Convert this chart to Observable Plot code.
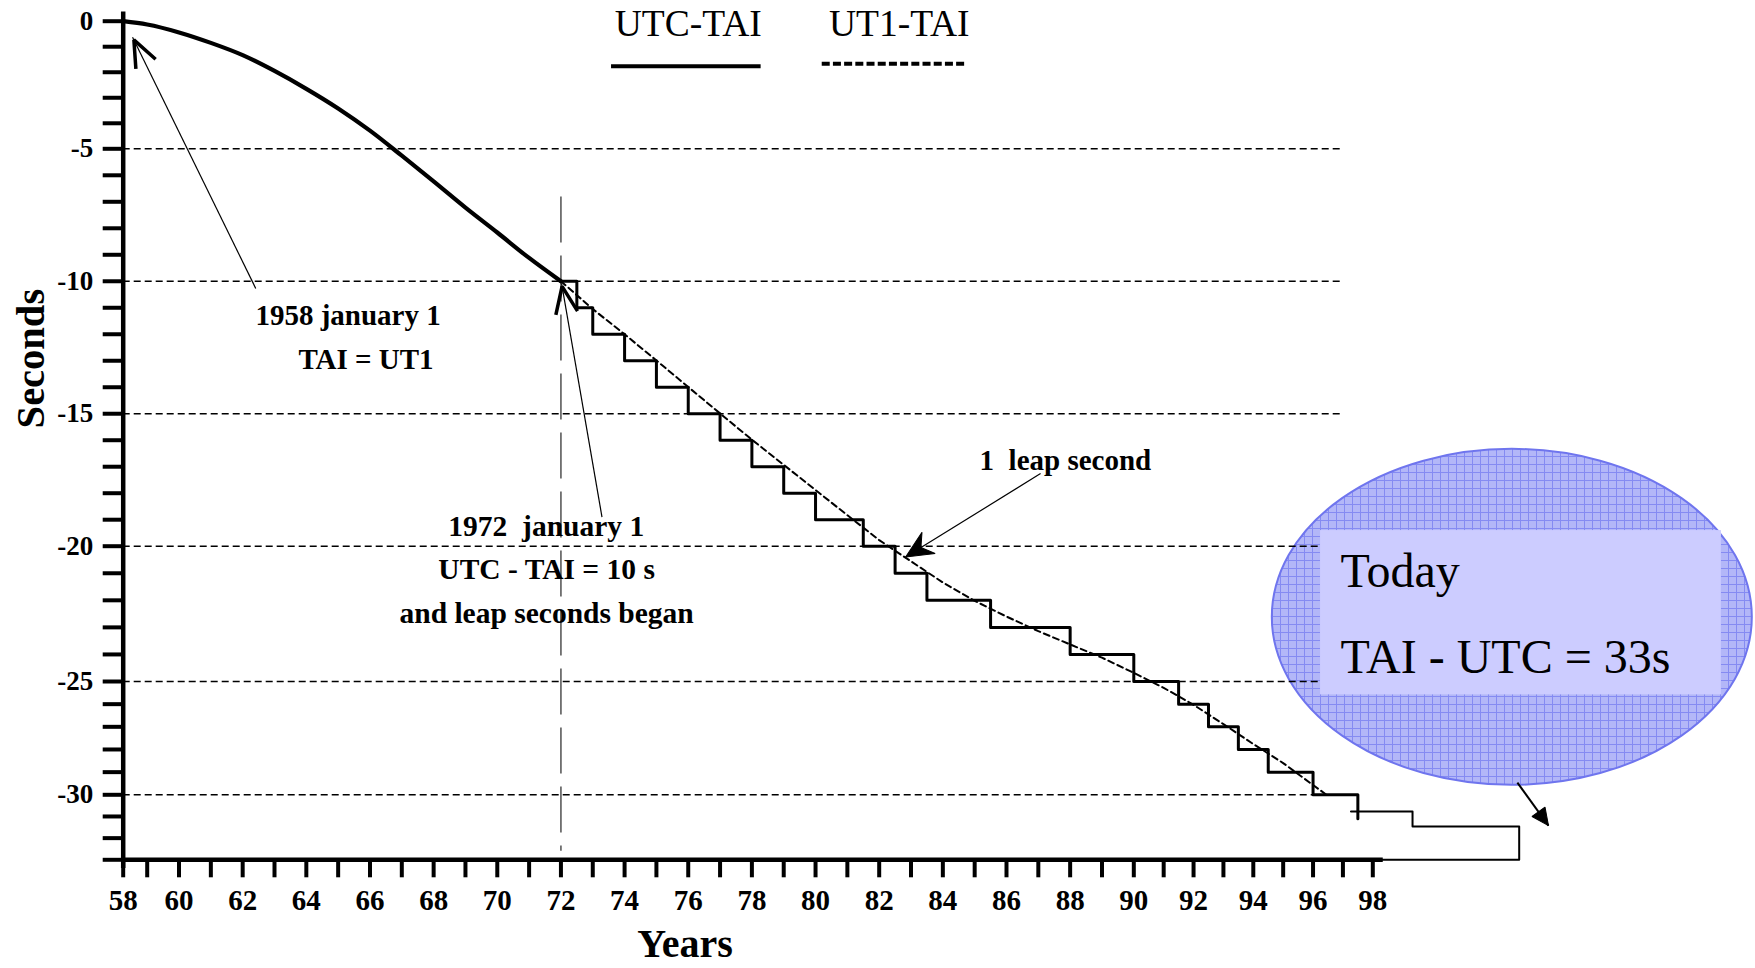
<!DOCTYPE html>
<html>
<head>
<meta charset="utf-8">
<script src="https://cdn.jsdelivr.net/npm/d3@7"></script>
<script src="https://cdn.jsdelivr.net/npm/@observablehq/plot@0.6"></script>
<style>
  html, body { margin: 0; padding: 0; background: #fff; }
  #chart svg { display: block; }
</style>
</head>
<body>
<div id="chart"></div>
<script>
// ---------------- data ----------------
// UTC-TAI before 1972 (follows UT1), years as two-digit 19xx
const earlyYears   = [58, 59, 60, 61, 62, 63, 64, 65, 66, 67, 68, 69, 70, 71, 72];
const earlyUtcTai  = [0, -0.13, -0.44, -0.85, -1.33, -1.95, -2.65, -3.42, -4.29, -5.26, -6.23, -7.22, -8.16, -9.12, -10];

// UTC-TAI leap-second staircase from 1972
const stepYears    = [72, 72.5, 73, 74, 75, 76, 77, 78, 79, 80, 81.5, 82.5, 83.5, 85.5, 88, 90, 91.5, 92.5, 93.5, 94.5, 96, 97.5];
const stepUtcTai   = [-10, -11, -12, -13, -14, -15, -16, -17, -18, -19, -20, -21, -22, -23, -24, -25, -26, -27, -28, -29, -30, -31.1];

// hand-drawn continuation toward "today"
const tailYears    = [97.27, 99.33, 102.9, 97.85];
const tailUtcTai   = [-30.77, -31.46, -33, -33];

// UT1-TAI (dashed) from 1972
const ut1Years     = [72, 73, 74, 75, 76, 77, 78, 79, 80, 81, 82, 83, 84, 85, 86, 87, 88, 89, 90, 91, 92, 93, 94, 95, 96, 96.5];
const ut1Tai       = [-10, -11.05, -12.0, -12.99, -13.99, -14.99, -15.98, -16.93, -17.88, -18.83, -19.77, -20.56, -21.34, -22.02, -22.6, -23.14, -23.63, -24.12, -24.68, -25.28, -26.03, -26.88, -27.76, -28.6, -29.57, -30.05];

// axes
const xTicks       = d3.range(58, 99);          // one tick per year
const yTicks       = d3.range(0, -34, -1);      // one tick per second
const gridLevels   = [-5, -10, -15, -20, -25, -30];
const leapStartYear = [72];

// texts
const legendLabels = ["UTC-TAI", "UT1-TAI"];
const note1958     = ["1958 january 1", "TAI = UT1"];
const note1972     = ["1972  january 1", "UTC - TAI = 10 s", "and leap seconds began"];
const noteLeap     = ["1  leap second"];
const todayLines   = ["Today", "TAI - UTC = 33s"];

// ---------------- helpers ----------------
const table = (xs, ys) => xs.map((x, i) => ({x, y: ys[i]}));
const NS = "http://www.w3.org/2000/svg";
const SERIF = '"Liberation Serif", "Times New Roman", Times, serif';

function headMarker(d, filled, sw) {
  return () => {
    const m = document.createElementNS(NS, "marker");
    m.setAttribute("viewBox", "-45 -25 55 50");
    m.setAttribute("markerWidth", 55);
    m.setAttribute("markerHeight", 50);
    m.setAttribute("refX", 0);
    m.setAttribute("refY", 0);
    m.setAttribute("markerUnits", "userSpaceOnUse");
    m.setAttribute("orient", "auto");
    m.setAttribute("overflow", "visible");
    const p = document.createElementNS(NS, "path");
    p.setAttribute("d", d);
    p.setAttribute("fill", filled ? "black" : "none");
    p.setAttribute("stroke", "black");
    p.setAttribute("stroke-width", sw);
    p.setAttribute("stroke-linejoin", "miter");
    m.appendChild(p);
    return m;
  };
}
const chevron = headMarker("M-30,-11L-3,0L-30,11", false, 3.5);
const barb    = headMarker("M0,0L-27,-12.5L-18,0L-27,12.5Z", true, 1);
const tri     = headMarker("M0,0L-17,-8L-17,8Z", true, 1);

// callout ellipse drawn with the plot's own scales
function calloutEllipse(index, scales) {
  const g = document.createElementNS(NS, "g");
  const defs = document.createElementNS(NS, "defs");
  const pat = document.createElementNS(NS, "pattern");
  pat.setAttribute("id", "hatch");
  pat.setAttribute("width", 8);
  pat.setAttribute("height", 8);
  pat.setAttribute("patternUnits", "userSpaceOnUse");
  const bg = document.createElementNS(NS, "rect");
  bg.setAttribute("width", 8); bg.setAttribute("height", 8); bg.setAttribute("fill", "#b3b7f8");
  const ln = document.createElementNS(NS, "path");
  ln.setAttribute("d", "M0,0.5H8M0.5,0V8");
  ln.setAttribute("stroke", "#858bf2"); ln.setAttribute("stroke-width", 1);
  pat.appendChild(bg); pat.appendChild(ln); defs.appendChild(pat); g.appendChild(defs);
  const e = document.createElementNS(NS, "ellipse");
  e.setAttribute("cx", scales.x(102.67));
  e.setAttribute("cy", scales.y(-22.63));
  e.setAttribute("rx", 240);
  e.setAttribute("ry", 168);
  e.setAttribute("fill", "url(#hatch)");
  e.setAttribute("stroke", "#6f75ee");
  e.setAttribute("stroke-width", 2);
  g.appendChild(e);
  return g;
}

// ---------------- chart ----------------
const W = 1755, H = 968;
const chart = Plot.plot({
  width: W,
  height: H,
  marginLeft: 122.7,
  marginRight: W - 1372.3,
  marginTop: 20.7,
  marginBottom: H - 859.3,
  x: {type: "linear", domain: [58, 59, 90, 98], range: [122.7, 146.7, 1133.3, 1372.3], label: null},
  y: {type: "linear", domain: [0, -5, -20, -25, -30, -33], range: [20.7, 148.3, 545.7, 681, 794.3, 859.3], label: null},
  style: {fontFamily: SERIF, fontSize: "28px", fontWeight: "bold", background: "#fff", color: "#000"},
  marks: [
    calloutEllipse,

    // dashed horizontal grid
    Plot.ruleY(gridLevels, {x1: 58, x2: 97, stroke: "#000", strokeWidth: 1.6, strokeDasharray: "7,4"}),
    // 1972 vertical long-dash line
    Plot.ruleX(leapStartYear, {y1: -6.82, y2: -32.6, stroke: "#444", strokeWidth: 1.4, strokeDasharray: "46,13"}),

    // UT1-TAI dashed
    Plot.line(table(ut1Years, ut1Tai), {x: "x", y: "y", stroke: "#000", strokeWidth: 2, strokeDasharray: "6,4"}),
    // UTC-TAI before 1972
    Plot.line(table(earlyYears, earlyUtcTai), {x: "x", y: "y", stroke: "#000", strokeWidth: 4.2, curve: "monotone-x"}),
    // UTC-TAI staircase
    Plot.line(table(stepYears, stepUtcTai), {x: "x", y: "y", stroke: "#000", strokeWidth: 3, curve: "step-after"}),
    Plot.line(table(tailYears, tailUtcTai), {x: "x", y: "y", stroke: "#000", strokeWidth: 2, curve: "step-after"}),

    // axes
    Plot.ruleX([58], {y1: 0.36, y2: -33.4, stroke: "#000", strokeWidth: 4.5}),
    Plot.ruleY([-33], {x1: 58, x2: 98.35, stroke: "#000", strokeWidth: 4.5}),
    Plot.axisX(xTicks, {anchor: "bottom", tickSize: 18, tickPadding: 12, strokeWidth: 4, fontSize: 29, fontWeight: "bold", tickFormat: d => d % 2 === 0 ? String(d) : "", label: null}),
    Plot.axisY(yTicks, {anchor: "left", tickSize: 20, tickPadding: 10, strokeWidth: 4, fontSize: 27, fontWeight: "bold", tickFormat: d => d % 5 === 0 ? String(d) : "", label: null}),
    Plot.text(["Seconds"], {x: 54.18, y: -12.92, rotate: -90, fontSize: 40.5, fontWeight: "bold", textAnchor: "middle", lineAnchor: "middle"}),
    Plot.text(["Years"], {x: 75.9, y: -37.5, fontSize: 40, fontWeight: "bold", textAnchor: "middle", lineAnchor: "bottom"}),

    // legend
    Plot.ruleY([-1.763], {x1: 73.59, x2: 78.29, stroke: "#000", strokeWidth: 4}),
    Plot.ruleY([-1.67], {x1: 80.21, x2: 84.77, stroke: "#000", strokeWidth: 4, strokeDasharray: "8,3.2"}),
    Plot.text(legendLabels, {x: [76.0, 82.63], y: [-0.59, -0.59], fontSize: 37.5, fontWeight: "normal", textAnchor: "middle", lineAnchor: "bottom"}),

    // annotations
    Plot.link([0], {x1: 62.41, y1: -10.27, x2: 58.39, y2: -0.627, stroke: "#000", strokeWidth: 1.2, markerEnd: chevron}),
    Plot.text(note1958, {x: [65.31, 65.875], y: [-11.655, -13.30], fontSize: 29, textAnchor: "middle", lineAnchor: "bottom"}),
    Plot.link([0], {x1: 73.29, y1: -18.9, x2: 72.02, y2: -10.08, stroke: "#000", strokeWidth: 1.2, markerEnd: chevron}),
    Plot.text(note1972, {x: [71.54, 71.55, 71.55], y: [-19.60, -21.22, -22.82], fontSize: 29.5, textAnchor: "middle", lineAnchor: "bottom"}),
    Plot.link([0], {x1: 87.07, y1: -17.26, x2: 82.83, y2: -20.4, stroke: "#000", strokeWidth: 1.2, markerEnd: barb}),
    Plot.text(noteLeap, {x: 87.85, y: -17.14, fontSize: 29, textAnchor: "middle", lineAnchor: "bottom"}),

    // "today" box
    Plot.rect([0], {x1: 96.25, x2: 109.67, y1: -19.41, y2: -25.59, fill: "#ccccff"}),
    Plot.text(todayLines, {x: [96.92, 96.92], y: [-21.49, -24.67], fontSize: 48, fontWeight: "normal", textAnchor: "start", lineAnchor: "bottom"}),
    Plot.link([0], {x1: 102.84, y1: -29.46, x2: 103.88, y2: -31.42, stroke: "#000", strokeWidth: 2, markerEnd: tri})
  ]
});
document.getElementById("chart").appendChild(chart);
</script>
</body>
</html>
